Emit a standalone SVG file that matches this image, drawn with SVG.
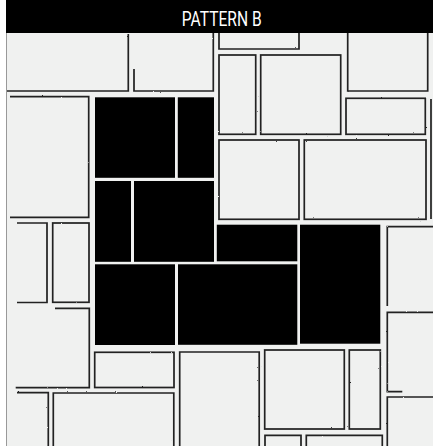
<svg xmlns="http://www.w3.org/2000/svg" width="433" height="446" viewBox="0 0 433 446">
<defs>
<filter id="rough" x="-2%" y="-2%" width="104%" height="104%">
<feTurbulence type="fractalNoise" baseFrequency="0.8" numOctaves="2" seed="3" result="n"/>
<feDisplacementMap in="SourceGraphic" in2="n" scale="1.6" xChannelSelector="R" yChannelSelector="G"/>
</filter>
</defs>
<style>
.o{fill:none;stroke:#222;stroke-width:1.7;stroke-linejoin:miter;stroke-linecap:butt}
.b{fill:#000}
.t{font-family:Roboto,"Liberation Sans",sans-serif;font-size:19.5px;fill:#fff}
</style>
<rect x="0" y="0" width="433" height="446" fill="#fff"/>
<rect x="6" y="33" width="427" height="413" fill="#f0f1f0"/>
<line x1="6.5" y1="33" x2="6.5" y2="446" stroke="#999" stroke-width="1"/>
<g id="header">
<rect x="6" y="0" width="427" height="33" fill="#000"/>
<text class="t" x="181.7" y="26" textLength="80" lengthAdjust="spacingAndGlyphs">PATTERN B</text>
</g>
<g id="black-tiles">
<rect class="b" x="95" y="97.3" width="80" height="80.5"/>
<rect class="b" x="177.8" y="97.3" width="36.2" height="80.5"/>
<rect class="b" x="95" y="181" width="36" height="80.8"/>
<rect class="b" x="134" y="181" width="80" height="80.8"/>
<rect class="b" x="216.8" y="224.7" width="80.5" height="36.6"/>
<rect class="b" x="300" y="224.7" width="80.3" height="119"/>
<rect class="b" x="95" y="264.3" width="80" height="80.7"/>
<rect class="b" x="178" y="264.3" width="119.3" height="80.5"/>
</g>
<g id="outline-tiles" filter="url(#rough)">
<path class="o" d="M128.3,34 V91 H7"/>
<path class="o" d="M134,69 V91 H213.3 V33"/>
<path class="o" d="M219,33 V49 H299 V33"/>
<path class="o" d="M347.7,33 V91 H427.7 V33"/>
<rect class="o" x="219" y="55" width="36.7" height="79.3"/>
<rect class="o" x="260.7" y="55" width="80" height="79.3"/>
<rect class="o" x="346" y="98.3" width="79.3" height="36"/>
<path class="o" d="M431,99 V219"/>
<rect class="o" x="219" y="140" width="80" height="79.3"/>
<rect class="o" x="304.3" y="140" width="121.7" height="79.3"/>
<path class="o" d="M10,96.7 H88.7 V217.3 H10"/>
<path class="o" d="M17,223 H47 V302.5 H17"/>
<rect class="o" x="52.7" y="223" width="36.3" height="79.3"/>
<path class="o" d="M55,308.3 H89.3 V387.7 H15.7"/>
<path class="o" d="M17,392.7 H48.3 V446"/>
<path class="o" d="M53.3,446 V393 H173.8 V446"/>
<rect class="o" x="94.7" y="352.3" width="79.3" height="35.2"/>
<path class="o" d="M179.7,446 V352 H259.2 V446"/>
<rect class="o" x="264.7" y="350" width="79.6" height="79"/>
<rect class="o" x="349.3" y="350" width="31" height="79"/>
<path class="o" d="M265,446 V435.3 H301 V446"/>
<path class="o" d="M306.3,446 V435.3 H382.3 V446"/>
<path class="o" d="M433,226.7 H387.3 V306"/>
<path class="o" d="M433,312.3 H387.3 V391.7 H402.3"/>
<path class="o" d="M433,397 H387.3 V446"/>
</g>
</svg>
